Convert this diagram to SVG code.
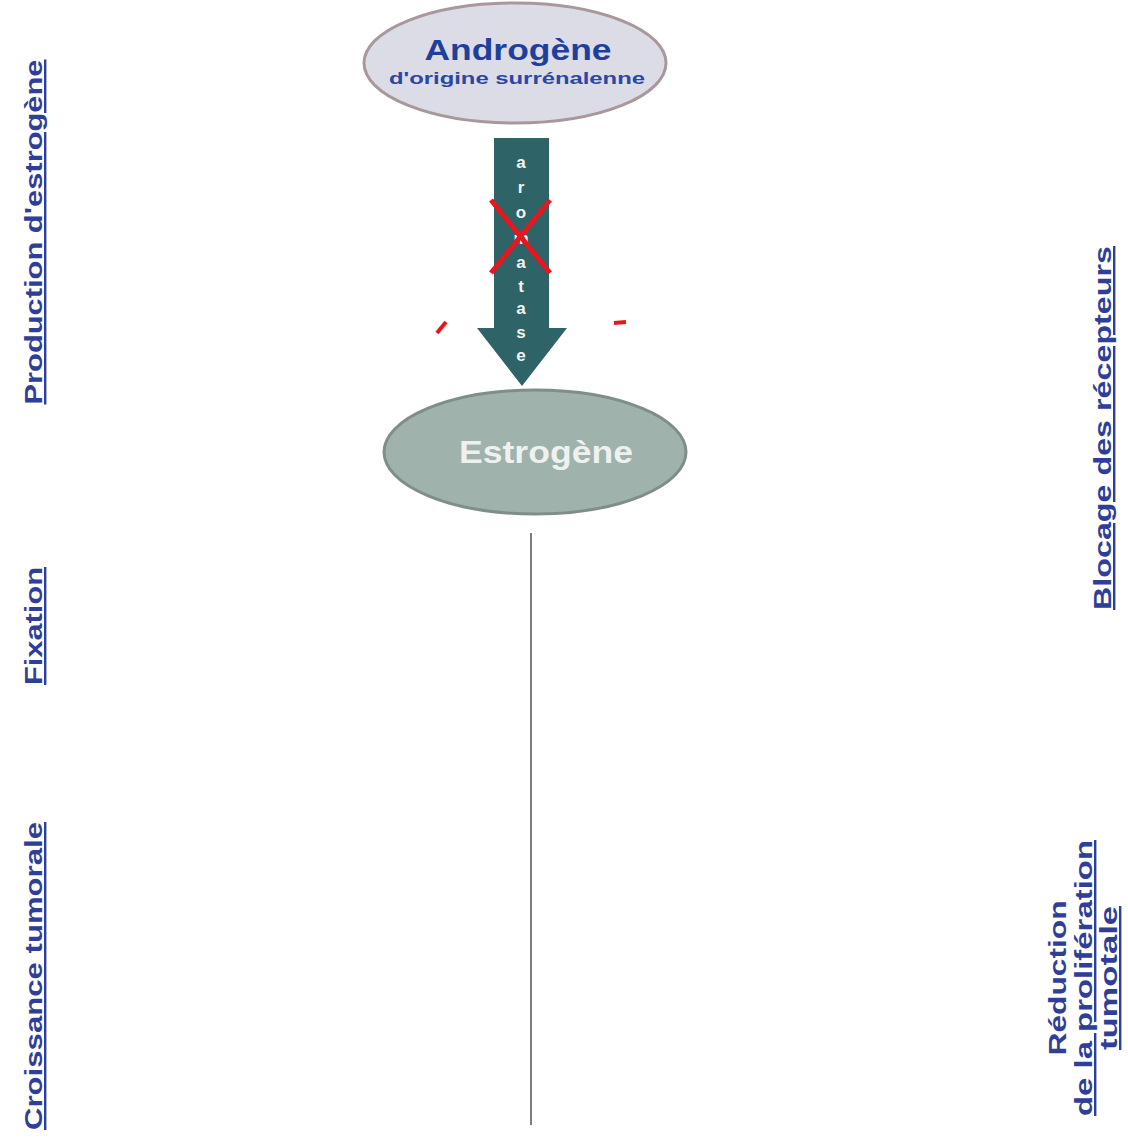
<svg xmlns="http://www.w3.org/2000/svg" width="1128" height="1138" viewBox="0 0 1128 1138">
  <style>
    .side { font-family: "Liberation Sans", Arial, sans-serif; font-weight: bold; font-size: 24px; fill: #2f3f98; text-decoration: underline; text-anchor: middle; }
    .plain { text-decoration: none; }
    .letter { font-family: "Liberation Sans", Arial, sans-serif; font-weight: bold; font-size: 17px; fill: #f2f4f4; text-anchor: middle; }
    .node-text { font-family: "Liberation Sans", Arial, sans-serif; font-weight: bold; text-anchor: middle; }
  </style>
  <rect width="1128" height="1138" fill="#ffffff"/>

  <!-- Side labels -->
  <g id="label-production">
    <text class="side" transform="translate(42,232) rotate(-90)" textLength="345" lengthAdjust="spacingAndGlyphs">Production d'estrogène</text>
  </g>
  <g id="label-fixation">
    <text class="side" transform="translate(42,626) rotate(-90)" textLength="118" lengthAdjust="spacingAndGlyphs">Fixation</text>
  </g>
  <g id="label-croissance">
    <text class="side" transform="translate(42,976) rotate(-90)" textLength="308" lengthAdjust="spacingAndGlyphs">Croissance tumorale</text>
  </g>
  <g id="label-blocage">
    <text class="side" transform="translate(1111,428) rotate(-90)" textLength="364" lengthAdjust="spacingAndGlyphs">Blocage des récepteurs</text>
  </g>
  <g id="label-reduction">
    <text class="side plain" transform="translate(1066,978) rotate(-90)" textLength="155" lengthAdjust="spacingAndGlyphs">Réduction</text>
    <text class="side" transform="translate(1092,978) rotate(-90)" textLength="276" lengthAdjust="spacingAndGlyphs">de la prolifération</text>
    <text class="side" transform="translate(1117,978) rotate(-90)" font-size="23" textLength="144" lengthAdjust="spacingAndGlyphs">tumotale</text>
  </g>

  <!-- Androgen node -->
  <g id="node-androgene">
    <ellipse cx="515" cy="63" rx="151" ry="60" fill="#dcdce6" stroke="#a8989c" stroke-width="3"/>
    <text class="node-text" x="518" y="60" font-size="30" fill="#1f3f9c" textLength="187" lengthAdjust="spacingAndGlyphs">Androgène</text>
    <text class="node-text" x="517" y="84" font-size="17" fill="#2a47a8" textLength="256" lengthAdjust="spacingAndGlyphs">d'origine surrénalenne</text>
  </g>

  <!-- Estrogen node -->
  <g id="node-estrogene">
    <ellipse cx="535" cy="452" rx="151" ry="62" fill="#9fb2ab" stroke="#7f8f88" stroke-width="3"/>
    <text class="node-text" x="546" y="463" font-size="31" fill="#eef1ef" textLength="174" lengthAdjust="spacingAndGlyphs">Estrogène</text>
  </g>

  <!-- Connectors -->
  <g id="connectors">
    <!-- aromatase arrow -->
    <path d="M494,138 H549 V328 H567 L522,386 L477,328 H494 Z" fill="#2e6367"/>
    <g>
      <text class="letter" x="521" y="168">a</text>
      <text class="letter" x="521" y="193">r</text>
      <text class="letter" x="521" y="218">o</text>
      <text class="letter" x="521" y="244">m</text>
      <text class="letter" x="521" y="268">a</text>
      <text class="letter" x="521" y="292">t</text>
      <text class="letter" x="521" y="314">a</text>
      <text class="letter" x="521" y="338">s</text>
      <text class="letter" x="521" y="361">e</text>
    </g>
    <!-- inhibition cross -->
    <g stroke="#e8161e" stroke-width="5">
      <line x1="491" y1="200" x2="550" y2="273"/>
      <line x1="491" y1="273" x2="550" y2="200"/>
    </g>
    <!-- red fragments -->
    <path d="M437,333 L446,322" stroke="#e8161e" stroke-width="4"/>
    <path d="M614,323 L626,322" stroke="#e8161e" stroke-width="4"/>
    <!-- vertical line -->
    <line x1="531" y1="533" x2="531" y2="1125" stroke="#7d7d7d" stroke-width="2"/>
  </g>
</svg>
